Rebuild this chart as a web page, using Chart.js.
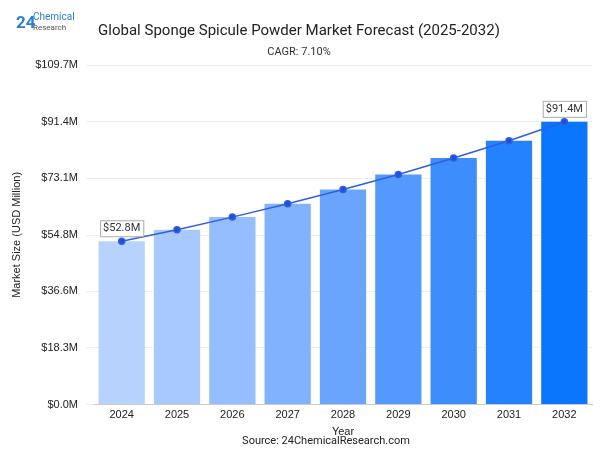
<!DOCTYPE html>
<html><head><meta charset="utf-8">
<script src="https://cdn.jsdelivr.net/npm/chart.js@4"></script>
<style>body{margin:0;background:#fff;font-family:Roboto,sans-serif}#w{position:relative;width:606px;height:456px}
#logo{position:absolute;left:16px;top:8px;color:#2a7fd4;font-family:Roboto;line-height:1}
#logo .n{font-size:17px;font-weight:bold;position:absolute;left:0;top:6px}
#logo .t{position:absolute;left:17px;top:4px;font-size:10px;white-space:nowrap}
</style></head><body><div id="w">
<div id="logo"><span class="n">24</span><span class="t">Chemical<br><span style="font-size:8px;color:#555">Research</span></span></div>
<canvas id="c" width="606" height="456"></canvas></div>
<script>
const years=["2024","2025","2026","2027","2028","2029","2030","2031","2032"];
const values=[52.8,56.5,60.6,64.9,69.5,74.4,79.7,85.3,91.4];
const colors=["#b7d3fd","#a7c9fd","#94befd","#80b2fd","#6aa5fd","#5499fd","#3e8dfd","#2582fd","#0a76fd"];
const ticks=[0,18.3,36.6,54.8,73.1,91.4,109.7];
const lbl={id:'lbl',afterDatasetsDraw(ch){const c=ch.ctx,m=ch.getDatasetMeta(0);[0,values.length-1].forEach(i=>{const p=m.data[i],t='$'+values[i].toFixed(1)+'M';c.font='11px Roboto';const w=c.measureText(t).width+6;const x=p.x-w/2,y=p.y-21;c.fillStyle='#fff';c.fillRect(x,y,w,16);c.strokeStyle='#aaa';c.lineWidth=1;c.strokeRect(x+.5,y+.5,w,16);c.fillStyle='#333';c.textAlign='center';c.textBaseline='middle';c.fillText(t,p.x,y+8.5);});}};
new Chart(document.getElementById('c'),{type:'bar',data:{labels:years,datasets:[
{type:'line',data:values,borderColor:'#2f5fe0',backgroundColor:'#1f4fe0',pointRadius:3,borderWidth:1.5,order:0},
{data:values,backgroundColor:colors,barPercentage:0.95,categoryPercentage:0.88,order:1}]},
options:{responsive:false,animation:false,layout:{padding:{left:6,right:14,top:10,bottom:17}},
plugins:{legend:{display:false},tooltip:{enabled:false},
title:{display:true,text:'Global Sponge Spicule Powder Market Forecast (2025-2032)',font:{family:'Roboto',size:15,weight:'normal'},color:'#222',padding:{top:12,bottom:6}},
subtitle:{display:true,text:'CAGR: 7.10%',font:{family:'Roboto',size:11},color:'#333',padding:{bottom:6}}},
scales:{x:{grid:{display:false,drawTicks:false},ticks:{color:'#222',font:{size:11},padding:4},title:{display:true,text:'Year',color:'#222',font:{size:11},padding:0},border:{color:'#ccc'}},
y:{min:0,max:109.7,afterBuildTicks(a){a.ticks=ticks.map(v=>({value:v}))},ticks:{color:'#222',font:{size:11},callback:v=>'$'+v.toFixed(1)+'M',padding:8},grid:{color:'#eee'},border:{display:false},title:{display:true,text:'Market Size (USD Million)',color:'#222',font:{size:11}}}}},
plugins:[lbl,{id:'src',afterDraw(ch){const c=ch.ctx;c.font='11px Roboto';c.fillStyle='#222';c.textAlign='center';c.textBaseline='middle';c.fillText('Source: 24ChemicalResearch.com',326,441);}}]});
</script></body></html>
